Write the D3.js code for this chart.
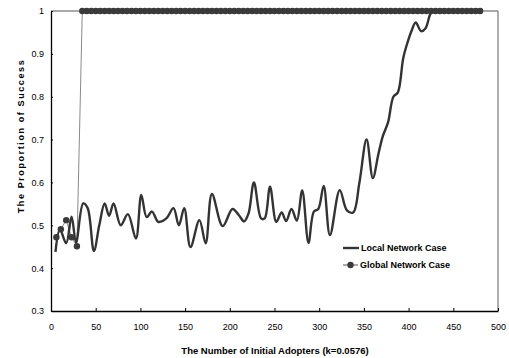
<!DOCTYPE html>
<html>
<head>
<meta charset="utf-8">
<script src="https://cdn.jsdelivr.net/npm/d3@7"></script>
<style>
  html, body { margin: 0; padding: 0; background: #fff; }
  svg { display: block; font-family: "Liberation Sans", Arial, sans-serif; }
</style>
</head>
<body>
<svg id="chart" width="509" height="358"></svg>
<script>
// Local network case: number of initial adopters vs. proportion of success
const localX = [5, 10, 17, 23, 28, 36, 41, 48, 54, 60, 65, 70, 78, 86, 95, 101, 107, 113, 120, 129,
  137, 143, 149, 156, 166, 173, 180, 192, 203, 210, 216, 221, 227, 235, 239, 245, 252, 258, 263, 269,
  275, 281, 288, 294, 299, 305, 312, 323, 331, 338, 345, 353, 360, 366, 371, 377, 383, 388, 394, 399,
  403, 408, 414, 419, 425, 430];
const localY = [0.438, 0.49, 0.458, 0.52, 0.46, 0.551, 0.54, 0.44, 0.5, 0.551, 0.522, 0.551, 0.50, 0.526, 0.469, 0.571, 0.519, 0.532, 0.508, 0.516,
  0.54, 0.50, 0.54, 0.449, 0.512, 0.458, 0.573, 0.498, 0.538, 0.524, 0.509, 0.528, 0.60, 0.516, 0.516, 0.59, 0.508, 0.53, 0.51, 0.538,
  0.511, 0.581, 0.459, 0.532, 0.538, 0.592, 0.477, 0.582, 0.535, 0.53, 0.6, 0.70, 0.61, 0.664, 0.707, 0.74, 0.80, 0.81, 0.89, 0.928,
  0.952, 0.973, 0.953, 0.96, 0.995, 1.0];

// Global network case: a few low points, then success everywhere from 35 adopters on
const globalLowX = [6, 11, 17, 23, 29];
const globalLowY = [0.472, 0.491, 0.512, 0.472, 0.451];
const globalHighStart = 35, globalHighEnd = 480, globalHighStep = 5;
const globalHighValue = 1.0;

const xTicks = [0, 50, 100, 150, 200, 250, 300, 350, 400, 450, 500];
const yTicks = [0.3, 0.4, 0.5, 0.6, 0.7, 0.8, 0.9, 1];

const seriesNames = ["Local Network Case", "Global Network Case"];
const xTitle = "The Number of Initial Adopters (k=0.0576)";
const yTitle = "The Proportion of Success";

// Build point tables
const localPts = localX.map((x, i) => ({ x, y: localY[i] }));
const globalX = globalLowX.concat(d3.range(globalHighStart, globalHighEnd + 1, globalHighStep));
const globalY = globalLowY.concat(d3.range(globalHighStart, globalHighEnd + 1, globalHighStep).map(() => globalHighValue));
const globalPts = globalX.map((x, i) => ({ x, y: globalY[i] }));

const svg = d3.select("#chart");
const W = 509, H = 358;
const m = { left: 51, right: 11, top: 11, bottom: 47 };

const x = d3.scaleLinear().domain([0, 500]).range([m.left, W - m.right]);
const y = d3.scaleLinear().domain([0.3, 1]).range([H - m.bottom, m.top]);

// Frame: top and right edges
svg.append("line").attr("x1", x(0)).attr("x2", x(500)).attr("y1", y(1)).attr("y2", y(1))
  .attr("stroke", "#555").attr("stroke-width", 1);
svg.append("line").attr("x1", x(500)).attr("x2", x(500)).attr("y1", y(1)).attr("y2", y(0.3))
  .attr("stroke", "#777").attr("stroke-width", 1.2);

// Axes with short inward ticks
const xAxis = d3.axisBottom(x).tickValues(xTicks).tickSizeInner(-3).tickSizeOuter(0).tickPadding(13)
  .tickFormat(d3.format("d"));
const gx = svg.append("g").attr("transform", `translate(0,${y(0.3)})`).call(xAxis);
gx.select(".domain").attr("stroke", "#000").attr("stroke-width", 1.3);
gx.selectAll(".tick line").attr("stroke", "#000");
gx.selectAll(".tick text").attr("font-size", 9).attr("fill", "#000")
  .attr("font-family", "Liberation Sans, Arial, sans-serif");

const yAxis = d3.axisLeft(y).tickValues(yTicks).tickSizeInner(-2).tickSizeOuter(0).tickPadding(7)
  .tickFormat(d => d === 1 ? "1" : d3.format(".1f")(d));
const gy = svg.append("g").attr("transform", `translate(${x(0)},0)`).call(yAxis);
gy.select(".domain").attr("stroke", "#000").attr("stroke-width", 1.3);
gy.selectAll(".tick line").attr("stroke", "#000");
gy.selectAll(".tick text").attr("font-size", 9).attr("fill", "#000")
  .attr("font-family", "Liberation Sans, Arial, sans-serif");

// Global network case: thin grey line with dark round markers
const globalLine = d3.line().x(d => x(d.x)).y(d => y(d.y));
svg.append("path").datum(globalPts).attr("d", globalLine)
  .attr("fill", "none").attr("stroke", "#8a8a8a").attr("stroke-width", 1);

// Local network case: smoothed dark line
const localLine = d3.line().x(d => x(d.x)).y(d => y(d.y)).curve(d3.curveCatmullRom.alpha(0.5));
svg.append("path").datum(localPts).attr("d", localLine)
  .attr("fill", "none").attr("stroke", "#333").attr("stroke-width", 2.4)
  .attr("stroke-linejoin", "round");

svg.append("g").selectAll("circle").data(globalPts).join("circle")
  .attr("cx", d => x(d.x)).attr("cy", d => y(d.y)).attr("r", 3.2)
  .attr("fill", "#3a3a3a");

// Legend
const lg = svg.append("g").attr("font-size", 9).attr("font-weight", "bold");
lg.append("line").attr("x1", 343).attr("x2", 359).attr("y1", 248).attr("y2", 248)
  .attr("stroke", "#333").attr("stroke-width", 2.4);
lg.append("text").attr("x", 361).attr("y", 248).attr("dy", "0.35em").text(seriesNames[0]);
lg.append("line").attr("x1", 343).attr("x2", 358).attr("y1", 265).attr("y2", 265)
  .attr("stroke", "#555").attr("stroke-width", 1);
lg.append("circle").attr("cx", 350.5).attr("cy", 265).attr("r", 3.2).attr("fill", "#3a3a3a");
lg.append("text").attr("x", 360).attr("y", 265).attr("dy", "0.35em").text(seriesNames[1]);

// Axis titles
svg.append("text").attr("x", 275).attr("y", 351).attr("dy", "0.35em")
  .attr("text-anchor", "middle").attr("font-size", 9.5).attr("font-weight", "bold")
  .text(xTitle);
svg.append("text").attr("transform", "translate(21,136) rotate(-90)").attr("dy", "0.35em")
  .attr("text-anchor", "middle").attr("font-size", 9).attr("font-weight", "bold")
  .attr("letter-spacing", 1.6).text(yTitle);
</script>
</body>
</html>
